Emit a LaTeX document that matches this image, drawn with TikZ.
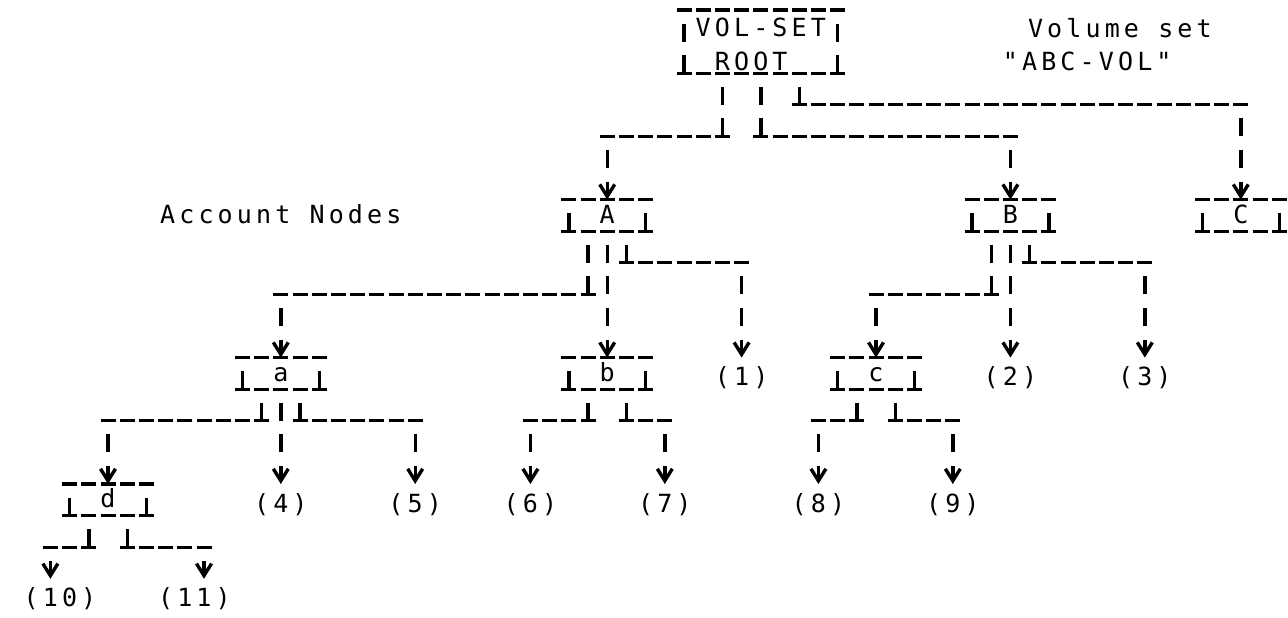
\documentclass[tikz,border=0pt]{standalone}
\usepackage{fontspec}
\newfontfamily\lineprinter[LetterSpace=16.6]{DejaVu Sans Mono}
\usetikzlibrary{arrows.meta}

\begin{document}
\begin{tikzpicture}[x=9.6pt, y=-15.8pt,
        every node/.style={font=\lineprinter\fontsize{12.5}{14}\selectfont, inner sep=0pt, outer sep=0pt},
        hbar/.style={line width=1.6pt, dash pattern=on 7.5pt off 2.1pt, shorten <=-3.75pt, shorten >=-3.75pt},
        vbar/.style={line width=1.7pt, dash pattern=on 9pt off 6.8pt, dash phase=9pt},
        tip/.style={-{Straight Barb[length=6pt, width=7.5pt]}},
        acct/.style={minimum width=38.4pt, minimum height=15.8pt, text height=8pt, text depth=0pt},
        leaf/.style={anchor=north, inner ysep=6pt, text height=8pt, text depth=1.5pt}]
    \useasboundingbox (-1.625, 0.6835) rectangle (65.458, 20.209);

    % volume set root
    \node (root) at (38, 2)[minimum width=76.8pt, minimum height=31.6pt, align=center,
        font=\lineprinter\fontsize{12.5}{16.6}\selectfont] {\rule{0pt}{12pt}VOL-SET\\ROOT\hspace*{9.6pt}};
    \node (volnote) at (56.7, 1.87)[anchor=base] {Volume set};
    \node (volname) at (55, 2.93)[anchor=base] {"ABC-VOL"};

    % account nodes
    \node (A) at (30, 7.5)[acct] {A};
    \node (B) at (51, 7.5)[acct] {B};
    \node (C) at (63, 7.5)[acct] {C};
    \node (acctnote) at (13, 7.77)[anchor=base] {Account Nodes};

    \node (a) at (13, 12.5)[acct] {a};
    \node (b) at (30, 12.5)[acct] {b};
    \node (c) at (44, 12.5)[acct] {c};
    \node (d) at (4, 16.5)[acct] {d};

    \node (l1) at (37, 12)[leaf] {(1)};
    \node (l2) at (51, 12)[leaf] {(2)};
    \node (l3) at (58, 12)[leaf] {(3)};
    \node (l4) at (13, 16)[leaf] {(4)};
    \node (l5) at (20, 16)[leaf] {(5)};
    \node (l6) at (26, 16)[leaf] {(6)};
    \node (l7) at (33, 16)[leaf] {(7)};
    \node (l8) at (41, 16)[leaf] {(8)};
    \node (l9) at (48, 16)[leaf] {(9)};
    \node (l10) at (1.5, 19)[leaf] {(10)};
    \node (l11) at (8.5, 19)[leaf] {(11)};

    \foreach \n in {root, A, B, C, a, b, c, d} {
        \draw[hbar] (\n.north west) -- (\n.north east);
        \draw[hbar] (\n.south west) -- (\n.south east);
        \draw[vbar] (\n.north west) -- (\n.south west);
        \draw[vbar] (\n.north east) -- (\n.south east);
    }

    % root
    \draw[vbar] ([xshift=-19.2pt]root.south) -- ++(0, 2) coordinate (rA);
    \draw[hbar] (rA) -- (rA -| A);
    \draw[vbar, tip] (rA -| A) -- (A);
    \draw[vbar] (root.south) -- ++(0, 2) coordinate (rB);
    \draw[hbar] (rB) -- (rB -| B);
    \draw[vbar, tip] (rB -| B) -- (B);
    \draw[vbar] ([xshift=19.2pt]root.south) -- ++(0, 1) coordinate (rC);
    \draw[hbar] (rC) -- (rC -| C);
    \draw[vbar, tip] (rC -| C) -- (C);

    % A
    \draw[vbar] ([xshift=-9.6pt]A.south) -- ++(0, 2) coordinate (Aa);
    \draw[hbar] (Aa) -- (Aa -| a);
    \draw[vbar, tip] (Aa -| a) -- (a);
    \draw[vbar, tip] (A) -- (b);
    \draw[vbar] ([xshift=9.6pt]A.south) -- ++(0, 1) coordinate (A1);
    \draw[hbar] (A1) -- (A1 -| l1);
    \draw[vbar, tip] (A1 -| l1) -- (l1);

    % B
    \draw[vbar] ([xshift=-9.6pt]B.south) -- ++(0, 2) coordinate (Bc);
    \draw[hbar] (Bc) -- (Bc -| c);
    \draw[vbar, tip] (Bc -| c) -- (c);
    \draw[vbar, tip] (B) -- (l2);
    \draw[vbar] ([xshift=9.6pt]B.south) -- ++(0, 1) coordinate (B3);
    \draw[hbar] (B3) -- (B3 -| l3);
    \draw[vbar, tip] (B3 -| l3) -- (l3);

    % a
    \draw[vbar] ([xshift=-9.6pt]a.south) -- ++(0, 1) coordinate (ad);
    \draw[hbar] (ad) -- (ad -| d);
    \draw[vbar, tip] (ad -| d) -- (d);
    \draw[vbar, tip] (a) -- (l4);
    \draw[vbar] ([xshift=9.6pt]a.south) -- ++(0, 1) coordinate (a5);
    \draw[hbar] (a5) -- (a5 -| l5);
    \draw[vbar, tip] (a5 -| l5) -- (l5);

    % b
    \draw[vbar] ([xshift=-9.6pt]b.south) -- ++(0, 1) coordinate (b6);
    \draw[hbar] (b6) -- (b6 -| l6);
    \draw[vbar, tip] (b6 -| l6) -- (l6);
    \draw[vbar] ([xshift=9.6pt]b.south) -- ++(0, 1) coordinate (b7);
    \draw[hbar] (b7) -- (b7 -| l7);
    \draw[vbar, tip] (b7 -| l7) -- (l7);

    % c
    \draw[vbar] ([xshift=-9.6pt]c.south) -- ++(0, 1) coordinate (c8);
    \draw[hbar] (c8) -- (c8 -| l8);
    \draw[vbar, tip] (c8 -| l8) -- (l8);
    \draw[vbar] ([xshift=9.6pt]c.south) -- ++(0, 1) coordinate (c9);
    \draw[hbar] (c9) -- (c9 -| l9);
    \draw[vbar, tip] (c9 -| l9) -- (l9);

    % d
    \draw[vbar] ([xshift=-9.6pt]d.south) -- ++(0, 1) coordinate (d10);
    \draw[hbar] (d10) -- ++(-2, 0) coordinate (d10b);
    \draw[vbar, tip] (d10b) -- (d10b |- l10.north);
    \draw[vbar] ([xshift=9.6pt]d.south) -- ++(0, 1) coordinate (d11);
    \draw[hbar] (d11) -- ++(4, 0) coordinate (d11b);
    \draw[vbar, tip] (d11b) -- (d11b |- l11.north);
\end{tikzpicture}
\end{document}
